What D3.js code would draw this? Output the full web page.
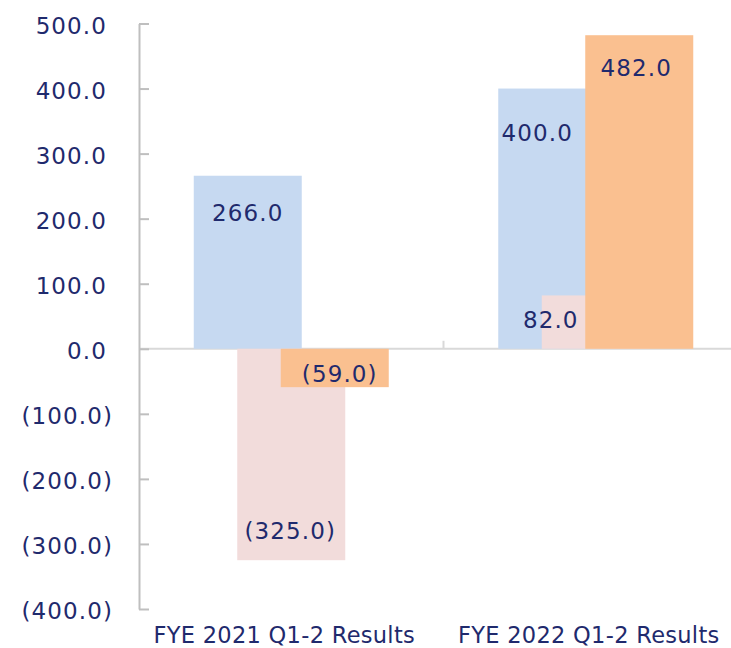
<!DOCTYPE html>
<html>
<head>
<meta charset="utf-8">
<script src="https://cdn.jsdelivr.net/npm/d3@7"></script>
<style>
  body { margin: 0; background: #fff; }
  svg text { font-family: "DejaVu Sans", Verdana, sans-serif; fill: #1f2a6d; }
</style>
</head>
<body>
<div id="chart"></div>
<script>
'use strict';

// chart data
const categories = ['FYE 2021 Q1-2 Results', 'FYE 2022 Q1-2 Results']
const seriesNames = ['s1', 's2', 's3']
const s1Values = [266.0, 400.0]
const s2Values = [-325.0, 82.0]
const s3Values = [-59.0, 482.0]
const yTicks = [-400, -300, -200, -100, 0, 100, 200, 300, 400, 500]

const SERIES = [s1Values, s2Values, s3Values]
const COLORS = ['#c6d9f1', '#f2dcdb', '#fac090']
// hand-placed label nudges [dx, inset from bar end], per series then category
const LABEL_NUDGE = [
  [[0, 45], [-15, 52]],
  [[-1, 21], [-45, 33]],
  [[5, 5], [-3, 41]],
]

const W = 731, H = 648
const svg = d3.select('#chart').append('svg')
  .attr('width', W).attr('height', H)

const x = d3.scaleBand().domain(categories).range([139, 748]).padding(0)
const y = d3.scaleLinear().domain([-400, 500]).range([609, 23.5])
const barW = 108
const off = d3.scaleLinear().domain([0, 2]).range([-97.5, -10.5])

const fmt = d => d < 0 ? '(' + d3.format('.1f')(-d) + ')' : d3.format('.1f')(d)

// zero line
svg.append('line')
  .attr('x1', 139).attr('x2', 748)
  .attr('y1', y(0)).attr('y2', y(0))
  .attr('stroke', '#d9d9d9').attr('stroke-width', 2)

// category divider tick
svg.append('line')
  .attr('x1', x(categories[1])).attr('x2', x(categories[1]))
  .attr('y1', y(0) - 8).attr('y2', y(0))
  .attr('stroke', '#d9d9d9').attr('stroke-width', 2)

// bars
SERIES.forEach((vals, si) => {
  svg.append('g').selectAll('rect')
    .data(vals).enter().append('rect')
    .attr('x', (d, i) => x(categories[i]) + x.bandwidth() / 2 + off(si))
    .attr('width', barW)
    .attr('y', d => y(Math.max(d, 0)))
    .attr('height', d => Math.abs(y(d) - y(0)))
    .attr('fill', COLORS[si])
})

// data labels
SERIES.forEach((vals, si) => {
  svg.append('g').selectAll('text')
    .data(vals).enter().append('text')
    .attr('x', (d, i) => x(categories[i]) + x.bandwidth() / 2 + off(si) + barW / 2 + LABEL_NUDGE[si][i][0])
    .attr('y', (d, i) => d >= 0 ? y(d) + LABEL_NUDGE[si][i][1] : y(d) - LABEL_NUDGE[si][i][1])
    .attr('text-anchor', 'middle')
    .style('font-size', '23px')
    .style('letter-spacing', '1.1px')
    .text(fmt)
})

// y axis
const yAxis = d3.axisLeft(y).tickValues(yTicks)
  .tickSizeInner(-10).tickSizeOuter(0).tickPadding(26)
  .tickFormat(fmt)
const gy = svg.append('g').attr('transform', 'translate(139,0)').call(yAxis)
gy.select('.domain').attr('stroke', '#bfbfbf').attr('stroke-width', 2)
gy.selectAll('.tick line').attr('stroke', '#bfbfbf').attr('stroke-width', 2)
gy.selectAll('.tick text')
  .attr('x', d => d < 0 ? -26 : -32)
  .attr('dy', '0.42em')
  .style('font-size', '23px')
  .style('letter-spacing', '1.1px')
  .style('font-family', '"DejaVu Sans", Verdana, sans-serif')
  .attr('fill', '#1f2a6d')

// category labels
svg.append('g').selectAll('text')
  .data(categories).enter().append('text')
  .attr('x', d => x(d) + x.bandwidth() / 2 - 7)
  .attr('y', 643)
  .attr('text-anchor', 'middle')
  .style('font-size', '22.5px')
  .style('letter-spacing', '0.3px')
  .text(d => d)
</script>
</body>
</html>
